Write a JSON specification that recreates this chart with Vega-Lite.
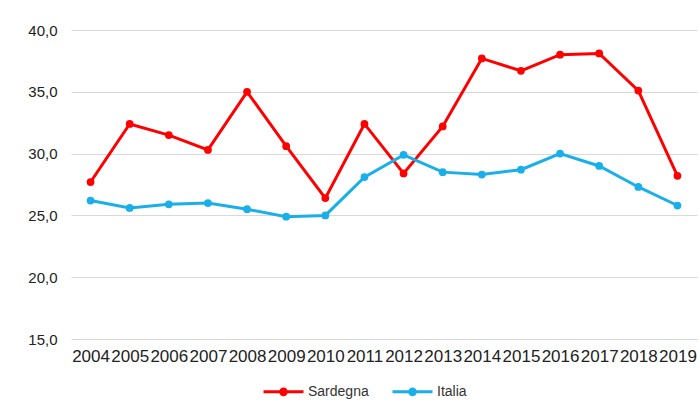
{
  "$schema": "https://vega.github.io/schema/vega-lite/v6.json",
  "width": 626,
  "height": 309,
  "autosize": {"type": "none"},
  "padding": {"left": 71, "top": 30, "right": 2, "bottom": 61},
  "background": "white",
  "config": {
    "view": {"stroke": null},
    "font": "Liberation Sans",
    "axis": {"labelFont": "Liberation Sans", "labelColor": "#222222"}
  },
  "data": {
    "values": [
      {"anno": "2004", "serie": "Sardegna", "valore": 27.7},
      {"anno": "2005", "serie": "Sardegna", "valore": 32.4},
      {"anno": "2006", "serie": "Sardegna", "valore": 31.5},
      {"anno": "2007", "serie": "Sardegna", "valore": 30.3},
      {"anno": "2008", "serie": "Sardegna", "valore": 35.0},
      {"anno": "2009", "serie": "Sardegna", "valore": 30.6},
      {"anno": "2010", "serie": "Sardegna", "valore": 26.4},
      {"anno": "2011", "serie": "Sardegna", "valore": 32.4},
      {"anno": "2012", "serie": "Sardegna", "valore": 28.4},
      {"anno": "2013", "serie": "Sardegna", "valore": 32.2},
      {"anno": "2014", "serie": "Sardegna", "valore": 37.7},
      {"anno": "2015", "serie": "Sardegna", "valore": 36.7},
      {"anno": "2016", "serie": "Sardegna", "valore": 38.0},
      {"anno": "2017", "serie": "Sardegna", "valore": 38.1},
      {"anno": "2018", "serie": "Sardegna", "valore": 35.1},
      {"anno": "2019", "serie": "Sardegna", "valore": 28.2},
      {"anno": "2004", "serie": "Italia", "valore": 26.2},
      {"anno": "2005", "serie": "Italia", "valore": 25.6},
      {"anno": "2006", "serie": "Italia", "valore": 25.9},
      {"anno": "2007", "serie": "Italia", "valore": 26.0},
      {"anno": "2008", "serie": "Italia", "valore": 25.5},
      {"anno": "2009", "serie": "Italia", "valore": 24.9},
      {"anno": "2010", "serie": "Italia", "valore": 25.0},
      {"anno": "2011", "serie": "Italia", "valore": 28.1},
      {"anno": "2012", "serie": "Italia", "valore": 29.9},
      {"anno": "2013", "serie": "Italia", "valore": 28.5},
      {"anno": "2014", "serie": "Italia", "valore": 28.3},
      {"anno": "2015", "serie": "Italia", "valore": 28.7},
      {"anno": "2016", "serie": "Italia", "valore": 30.0},
      {"anno": "2017", "serie": "Italia", "valore": 29.0},
      {"anno": "2018", "serie": "Italia", "valore": 27.3},
      {"anno": "2019", "serie": "Italia", "valore": 25.8}
    ]
  },
  "mark": {"type": "line", "strokeWidth": 3, "point": {"filled": true, "size": 60}},
  "encoding": {
    "x": {
      "field": "anno",
      "type": "ordinal",
      "scale": {"type": "point", "padding": 0.5},
      "axis": {
        "title": null,
        "labelAngle": 0,
        "labelFontSize": 17,
        "labelPadding": 9,
        "ticks": false,
        "domain": false,
        "grid": false
      }
    },
    "y": {
      "field": "valore",
      "type": "quantitative",
      "scale": {"domain": [15, 40], "nice": false, "zero": false},
      "axis": {
        "title": null,
        "values": [15, 20, 25, 30, 35, 40],
        "labelExpr": "replace(format(datum.value, '.1f'), '.', ',')",
        "labelFontSize": 15,
        "labelPadding": 14,
        "ticks": false,
        "domain": false,
        "gridColor": "#D9D9D9",
        "gridWidth": 1
      }
    },
    "color": {
      "field": "serie",
      "type": "nominal",
      "sort": ["Sardegna", "Italia"],
      "scale": {"domain": ["Sardegna", "Italia"], "range": ["#FF0000", "#1BAFEA"]},
      "legend": {
        "title": null,
        "orient": "none",
        "direction": "horizontal",
        "legendX": 191,
        "legendY": 340,
        "labelFontSize": 14,
        "labelColor": "#333333",
        "labelOffset": 3,
        "symbolType": "M-1,0L1,0M-0.14,0A0.14,0.14 0 1,1 0.14,0A0.14,0.14 0 1,1 -0.14,0Z",
        "symbolSize": 1600,
        "symbolStrokeWidth": 3,
        "columnPadding": 17,
        "encode": {
          "symbols": {
            "update": {
              "stroke": {"scale": "color", "field": "value"},
              "strokeWidth": {"value": 3}
            }
          }
        }
      }
    }
  }
}
